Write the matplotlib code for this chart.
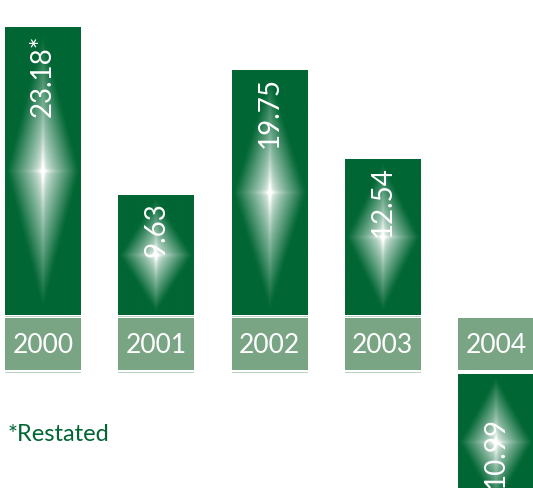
import numpy as np
import matplotlib.pyplot as plt
from matplotlib.patches import Rectangle

years = ['2000', '2001', '2002', '2003', '2004']
values = [23.18, 9.63, 19.75, 12.54, -10.99]
notes = ['*', '', '', '', '']
footnote = '*Restated'

GREEN = np.array([0, 102, 51]) / 255
BOX = '#7aa585'
RULE = '#bcd3c0'
FONT = 'Lato'

W, H, DPI = 533, 489, 100
PX_PER_UNIT = 12.4          # vertical scale, pixels per value unit
STEP = 113.25               # pixels between bar centres
X0 = 43                     # centre of the first bar, pixels
BAR_W = 76 / STEP

fig = plt.figure(figsize=(W / DPI, H / DPI), dpi=DPI)
xlim = (-X0 / STEP, (W - X0) / STEP)


def axes_px(top, bottom):
    ax = fig.add_axes([0, (H - bottom) / H, 1, (bottom - top) / H])
    ax.set_xlim(*xlim)
    ax.axis('off')
    return ax


ax_pos = axes_px(0, 316)
ax_pos.set_ylim(0, 316 / PX_PER_UNIT)
ax_lab = axes_px(316, 375)
ax_lab.set_ylim(375, 316)
ax_neg = axes_px(375, H)
ax_neg.set_ylim(-(H - 375) / PX_PER_UNIT, 0)


def glow(wpx, hpx, n=240):
    # diamond-shaped highlight with a faint cross through the centre
    u = np.linspace(-1, 1, n)[None, :]
    t = np.linspace(-1, 1, n)[:, None]
    g = np.clip(1 - (np.abs(u) + np.abs(t)), 0, 1)
    inten = 0.85 * g * (1 - np.exp(-g / 0.12)) + 0.15 * g ** 6
    inten = inten + 0.12 * np.exp(-(t * hpx / 1.6) ** 2) * np.clip(1 - np.abs(u), 0, 1) ** 2
    inten = inten + 0.12 * np.exp(-(u * wpx / 1.6) ** 2) * np.clip(1 - np.abs(t), 0, 1) ** 2
    inten = np.clip(inten, 0, 1)[..., None]
    return GREEN * (1 - inten) + inten


def draw_bar(ax, i, v):
    x0, x1 = i - BAR_W / 2, i + BAR_W / 2
    ax.add_patch(Rectangle((x0, 0), BAR_W, v, color=GREEN, lw=0, zorder=1))
    img = glow(BAR_W * STEP / 2, abs(v) * PX_PER_UNIT / 2)
    ax.imshow(img, extent=[x0, x1, min(0, v), max(0, v)], aspect='auto',
              interpolation='bilinear', zorder=2)


for i, (yr, v, note) in enumerate(zip(years, values, notes)):
    label = f'{abs(v):.2f}{note}'
    if v >= 0:
        draw_bar(ax_pos, i, v)
        ax_pos.annotate(label, xy=(i, v), xytext=(0, -4), textcoords='offset points',
                        rotation=90, ha='center', va='top', color='white',
                        fontsize=20, family=FONT, zorder=5)
        ax_lab.add_patch(Rectangle((i - BAR_W / 2, 316.6), BAR_W, 0.9, color=RULE, lw=0))
        ax_lab.add_patch(Rectangle((i - BAR_W / 2, 373), BAR_W, 1.4, color=RULE, lw=0))
    else:
        draw_bar(ax_neg, i, v)
        ax_neg.annotate(label, xy=(i, v), xytext=(0, 17), textcoords='offset points',
                        rotation=90, ha='center', va='bottom', color='white',
                        fontsize=20, family=FONT, zorder=5, annotation_clip=False)
    ax_lab.add_patch(Rectangle((i - BAR_W / 2, 319), BAR_W, 52, color=BOX, lw=0))
    ax_lab.text(i, 345.5, yr, ha='center', va='center', color='white',
                fontsize=19, family=FONT)

ax_pos.set_xlim(*xlim)
ax_neg.set_xlim(*xlim)
ax_neg.set_ylim(-(H - 375) / PX_PER_UNIT, 0)

fig.text(8 / W, 1 - 441 / H, footnote, color=GREEN, fontsize=17, family=FONT,
         ha='left', va='baseline')

fig.savefig('out.png', dpi=DPI)
